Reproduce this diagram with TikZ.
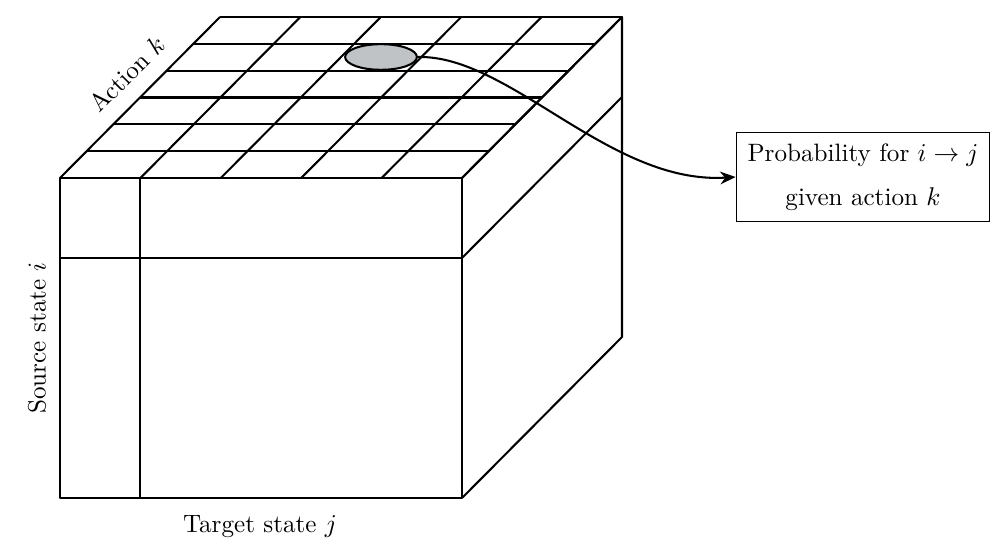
\documentclass[tikz,border=0pt]{standalone}
\usetikzlibrary{arrows.meta,shapes.geometric}
\definecolor{blobgray}{RGB}{191,195,198}
\begin{document}
\begin{tikzpicture}[x=0.39pt,y=-0.39pt,
  edge/.style={line width=0.8pt,line join=round},
  lbl/.style={inner sep=0pt,font=\fontsize{9.8}{12}\selectfont},
  infobox/.style={draw,line width=0.4pt,align=center,minimum width=99pt,minimum height=35pt,inner sep=2pt,font=\fontsize{9.8}{17}\selectfont},
  blob/.style={draw,line width=0.8pt,fill=blobgray,ellipse,minimum width=28pt,minimum height=10pt,inner sep=0pt}]
\useasboundingbox (0,0) rectangle (1001,546);
% front face
\draw[edge] (60,178) rectangle (462,498);
\draw[edge] (140,178) -- (140,498);
\draw[edge] (60,258) -- (462,258);
% right face
\draw[edge] (462,178) -- (622,17) -- (622,337) -- (462,498);
\draw[edge] (462,258) -- (622,97);
% top face grid
\foreach \r in {0,...,6}{
  \draw[edge] ({60+\r*160/6},{178-\r*161/6}) -- ({462+\r*160/6},{178-\r*161/6});
}
\foreach \c in {0,...,5}{
  \draw[edge] ({60+\c*80.4},178) -- ({220+\c*80.4},17);
}
% ellipse
\node[blob] (p) at (381,57) {};
% box
\node[infobox] (b) at (863,177) {Probability for $i \to j$\\given action $k$};
\draw[line width=0.8pt,-{Stealth[length=6pt,width=5pt]}] (p.east) .. controls (510,55) and (610,185) .. (b.west);
% labels
\node[lbl] (tl) at (260,527) {Target state $j$};
\node[lbl,rotate=90] (sl) at (37,338) {Source state $i$};
\node[lbl,rotate=45] (al) at (127,74) {Action $k$};
\end{tikzpicture}
\end{document}
